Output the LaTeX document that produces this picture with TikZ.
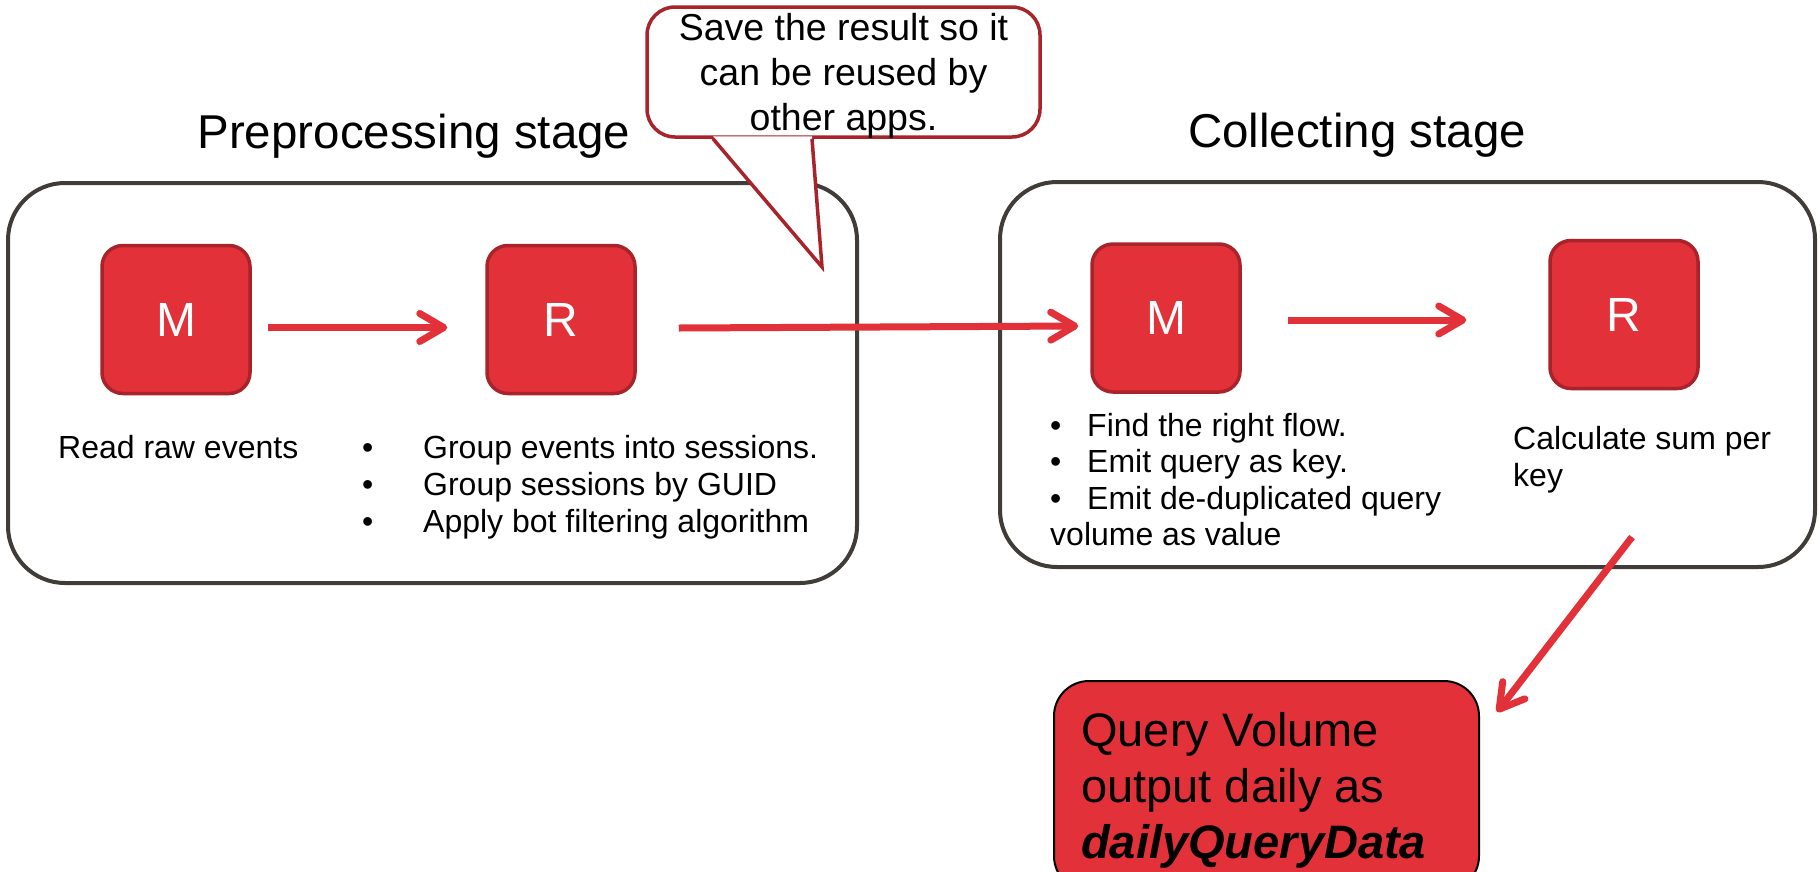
\documentclass[tikz,border=0pt]{standalone}
\usepackage{fontspec}
\setmainfont{Liberation Sans}
\usetikzlibrary{arrows.meta}

\definecolor{jobred}{HTML}{E3313A}
\definecolor{jobedge}{HTML}{A8232A}
\definecolor{stagegray}{HTML}{403C38}

\tikzset{
  stage/.style={draw=stagegray, line width=4pt, rounded corners=57pt},
  job/.style={draw=jobedge, fill=jobred, line width=3.5pt, rounded corners=21pt,
    minimum width=148pt, minimum height=148pt, inner sep=0pt, text=white,
    font=\fontsize{48}{55}\selectfont},
  flow/.style={jobred, line width=7pt, -{Straight Barb[length=24pt,width=28pt,round]}},
  title/.style={anchor=base, inner sep=0pt, font=\fontsize{47.5}{55}\selectfont},
  note/.style={anchor=base west, inner sep=0pt, font=\fontsize{32}{37}\selectfont},
  bubble/.style={draw=jobedge, fill=white, line width=3.5pt, rounded corners=28pt},
  bubbletext/.style={anchor=base, inner sep=0pt, font=\fontsize{37.5}{44}\selectfont},
  result/.style={draw=black, fill=jobred, line width=2pt, rounded corners=35pt},
  resulttext/.style={anchor=base west, inner sep=0pt, font=\fontsize{47}{56}\selectfont},
}

\begin{document}
\begin{tikzpicture}[x=1pt, y=-1pt]
  \useasboundingbox (0,0) rectangle (1820,871);

  % the two stages
  \node[stage, minimum width=849pt, minimum height=400pt] (prebox) at (432.5,383) {};
  \node[stage, minimum width=815pt, minimum height=385pt] (colbox) at (1407.5,374.5) {};
  \node[title] (pretitle) at (414,148) {Preprocessing stage};
  \node[title] (coltitle) at (1357,147) {Collecting stage};

  % map / reduce jobs
  \node[job] (m1) at (176,319.5) {M};
  \node[job] (r1) at (561,319.5) {R};
  \node[job] (m2) at (1166,318) {M};
  \node[job] (r2) at (1624,314.5) {R};

  \draw[flow] ([shift={(16,8)}]m1.east) -- ([shift={(-38,8)}]r1.west);
  \draw[flow] ([shift={(42,8.5)}]r1.east) -- ([shift={(-12,8)}]m2.west);
  \draw[flow] ([shift={(46,2)}]m2.east) -- ([shift={(-82,5.5)}]r2.west);

  % notes under the jobs
  \node[note] (readnote) at (58,458) {Read raw events};
  \foreach \line [count=\i] in {Group events into sessions., Group sessions by GUID, Apply bot filtering algorithm}
    \node[note] (pre\i) at (362,421+37*\i) {\makebox[61pt][l]{\textbullet}\line};
  \foreach \line [count=\i] in {Find the right flow., Emit query as key., Emit de-duplicated query}
    \node[note] (col\i) at (1050,399.5+36.5*\i) {\makebox[37pt][l]{\textbullet}\line};
  \node[note] (col4) at (1050,545.5) {volume as value};
  \node[note] (sum1) at (1513,449) {Calculate sum per};
  \node[note] (sum2) at (1513,486) {key};

  % output
  \node[result, minimum width=425pt, minimum height=210pt, anchor=north west] (out) at (1053,680) {};
  \node[resulttext] (out1) at (1081,746) {Query Volume};
  \node[resulttext] (out2) at (1081,802) {output daily as};
  \node[resulttext] (out3) at (1081,858) {\bfseries\itshape dailyQueryData};
  \coordinate (sumtail) at (1632,537);
  \draw[flow] (sumtail) -- ([shift={(17,32)}]out.north east);

  % callout
  \node[bubble, minimum width=393pt, minimum height=130pt] (savenote) at (843.5,72) {};
  \coordinate (tip) at (822,267);
  \fill[white] ([shift={(-130.5,-2.5)}]savenote.south) -- (tip) -- ([shift={(-31.5,-2.5)}]savenote.south) -- cycle;
  \draw[jobedge, line width=3.5pt, line join=miter] ([xshift=-130.5pt]savenote.south) -- (tip) -- ([xshift=-31.5pt]savenote.south);
  \node[bubbletext] (save1) at (843.5,40) {Save the result so it};
  \node[bubbletext] (save2) at (843.5,85) {can be reused by};
  \node[bubbletext] (save3) at (843.5,130) {other apps.};
\end{tikzpicture}
\end{document}
